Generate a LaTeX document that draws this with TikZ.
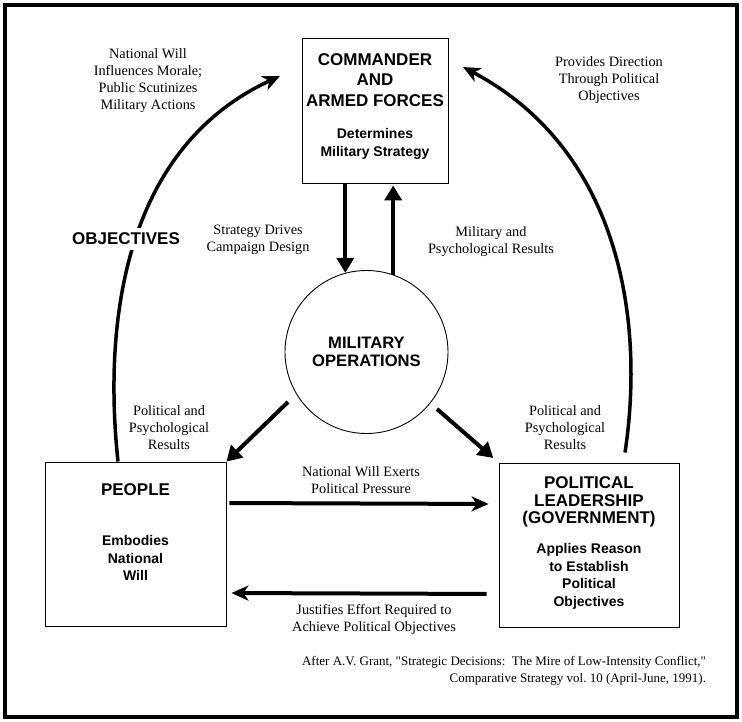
\documentclass[tikz,border=0pt]{standalone}
\usepackage{fontspec}
\setmainfont{Liberation Serif}
\setsansfont{Liberation Sans}
\usetikzlibrary{arrows.meta}

\newcommand{\headtxt}{\fontsize{17}{20.5}\selectfont}
\newcommand{\subtxt}{\fontsize{14}{17.5}\selectfont}

\begin{document}
\begin{tikzpicture}[x=1pt,y=-1pt,->,>={Stealth[length=17pt,width=15pt,inset=5pt]},
                    line width=4pt,
                    main node/.style={draw,line width=0.9pt,align=center,font=\sffamily\bfseries\headtxt},
                    note node/.style={align=center,font=\fontsize{14.3}{17}\selectfont},
                    tri/.style={-{Triangle[length=15pt,width=17pt]}},
                    curve/.style={line width=3.5pt}]

  \useasboundingbox (0,0) rectangle (742,721);
  \draw[-] (5,5) rectangle (737,717);

  \node[main node,minimum width=146pt,minimum height=145pt,text depth=11pt] (1) at (375,110.5)
    {COMMANDER\\AND\\ARMED FORCES\\[11.5pt]\subtxt Determines\\[-2.5pt]\subtxt Military Strategy};
  \node[main node,circle,minimum size=163pt,font=\sffamily\bfseries\fontsize{16.6}{18.5}\selectfont] (2) at (366.5,352)
    {MILITARY\\OPERATIONS};
  \node[main node,minimum width=181pt,minimum height=164pt,text depth=23pt] (3) at (135.5,544)
    {PEOPLE\\[29.5pt]\subtxt Embodies\\[-3pt]\subtxt National\\[-3pt]\subtxt Will};
  \node[main node,minimum width=180pt,minimum height=164pt,text depth=7pt] (4) at (589,545)
    {POLITICAL\\[-3pt]LEADERSHIP\\[-3pt](GOVERNMENT)\\[9.5pt]\subtxt Applies Reason\\[-3pt]\subtxt to Establish\\[-3pt]\subtxt Political\\[-3pt]\subtxt Objectives};

  \coordinate (opsSW) at (288,402);
  \coordinate (opsSE) at (437,409);
  \coordinate (cmdW) at (280,76);
  \coordinate (cmdE) at (463,67);

  \path (2.105 |- 1.south) edge[tri] (2.105)
        (2.71) edge[tri,shorten >=2pt] (2.71 |- 1.south)
        (opsSW) edge[tri] (3.north east)
        (opsSE) edge[tri,shorten >=7pt] (4.north west)
        ([yshift=41pt]3.east) edge[shorten <=3pt,shorten >=10pt] ([yshift=41pt]4.west)
        ([yshift=-49pt]4.west) edge[shorten <=12pt,shorten >=5pt] ([yshift=-49pt]3.east);

  \draw[curve] ([xshift=-17.5pt]3.north) .. controls (104,330) and (120,150) .. (cmdW);
  \draw[curve] ([xshift=36pt,yshift=10pt]4.north) .. controls (645,320) and (620,150) .. (cmdE);

  \node[note node,fill=white,inner sep=5pt,font=\sffamily\bfseries\fontsize{17}{20}\selectfont] (objectives) at (126,239) {OBJECTIVES};

  \node[note node] (morale) at (148,81) {National Will\\Influences Morale;\\Public Scutinizes\\Military Actions};
  \node[note node] (direction) at (609,80.5) {Provides Direction\\Through Political\\Objectives};
  \node[note node] (strategy) at (258,240) {Strategy Drives\\Campaign Design};
  \node[note node] (results) at (491,242) {Military and\\Psychological Results};
  \node[note node] (resultsL) at (169,428) {Political and\\Psychological\\Results};
  \node[note node] (resultsR) at (565,428) {Political and\\Psychological\\Results};
  \node[note node] (pressure) at (361,480.5) {National Will Exerts\\Political Pressure};
  \node[note node] (effort) at (374,619.5) {Justifies Effort Required to\\Achieve Political Objectives};
  \node[note node,align=right,anchor=east,inner sep=0pt,font=\fontsize{13}{17}\selectfont] (source) at (708,670.5)
    {After A.V. Grant, \textquotedbl Strategic Decisions:\ \ The Mire of Low-Intensity Conflict,\textquotedbl\\Comparative Strategy vol.\ 10 (April-June, 1991).};
\end{tikzpicture}
\end{document}
